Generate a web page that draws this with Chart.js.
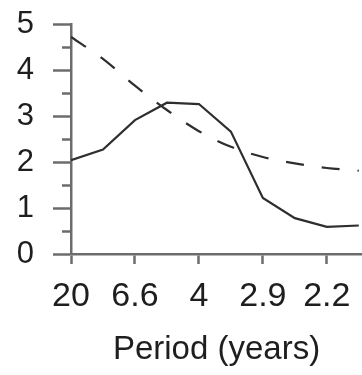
<!DOCTYPE html>
<html>
<head>
<meta charset="utf-8">
<script src="https://cdn.jsdelivr.net/npm/chart.js@4"></script>
<style>
  html, body { margin: 0; padding: 0; background: #fff; }
  #wrap { width: 362px; height: 375px; position: relative; }
</style>
</head>
<body>
<div id="wrap"><canvas id="c"></canvas></div>
<script>
// 資料：x 為半個刻度間隔的序號，刻度文字為週期（年）
var steps = [0, 1, 2, 3, 4, 5, 6, 7, 8, 9];
var solidValues = [2.04, 2.27, 2.91, 3.29, 3.26, 2.66, 1.22, 0.78, 0.59, 0.62];
var dashedValues = [4.72, 4.24, 3.66, 3.13, 2.67, 2.33, 2.11, 1.97, 1.87, 1.81];
var periodTicks = [0, 2, 4, 6, 8];
var periodLabels = ['20', '6.6', '4', '2.9', '2.2'];
var yMajor = [0, 1, 2, 3, 4, 5];

var axisGray = '#6c6c6c';
var lineColor = '#2e2e2e';
var textCol = '#1e1e1e';
var fontFam = '"Liberation Sans", Arial, sans-serif';

function pts(vals) {
  return steps.map(function (s, i) { return { x: s, y: vals[i] }; });
}

new Chart(document.getElementById('c'), {
  type: 'line',
  data: {
    datasets: [
      {
        label: 'solid',
        data: pts(solidValues),
        borderColor: lineColor,
        borderWidth: 2.2,
        pointRadius: 0,
        tension: 0,
        fill: false
      },
      {
        label: 'dashed',
        data: pts(dashedValues),
        borderColor: lineColor,
        borderWidth: 2.2,
        borderDash: [18, 18],
        pointRadius: 0,
        cubicInterpolationMode: 'monotone',
        fill: false
      }
    ]
  },
  options: {
    responsive: true,
    maintainAspectRatio: false,
    animation: false,
    layout: { padding: { top: 24, right: 0, left: 0, bottom: 0 } },
    plugins: { legend: { display: false }, tooltip: { enabled: false } },
    scales: {
      x: {
        type: 'linear',
        min: 0,
        max: 9.1,
        afterBuildTicks: function (scale) {
          scale.ticks = periodTicks.map(function (v) { return { value: v }; });
        },
        afterFit: function (scale) {
          scale.height = 121;
          scale.paddingLeft = 0;
          scale.paddingRight = 0;
        },
        border: { color: axisGray, width: 2.5 },
        grid: { drawOnChartArea: false, tickLength: 10, tickColor: axisGray, tickWidth: 2.5 },
        ticks: {
          color: textCol,
          font: { family: fontFam, size: 34 },
          padding: 12,
          autoSkip: false,
          maxRotation: 0,
          callback: function (v) { return periodLabels[periodTicks.indexOf(v)]; }
        },
        title: {
          display: true,
          text: 'Period (years)',
          color: textCol,
          font: { family: fontFam, size: 33 },
          padding: { top: 0, bottom: 5 }
        }
      },
      y: {
        min: 0,
        max: 5,
        afterFit: function (scale) {
          scale.width = 71;
          scale.paddingTop = 0;
          scale.paddingBottom = 0;
        },
        border: { color: axisGray, width: 2.5 },
        grid: {
          drawOnChartArea: false,
          tickLength: 18,
          tickColor: axisGray,
          tickWidth: 2.5,
          tickBorderDash: function (ctx) {
            return yMajor.indexOf(ctx.tick.value) >= 0 ? [] : [0, 9, 9, 40];
          }
        },
        ticks: {
          stepSize: 0.5,
          autoSkip: false,
          color: textCol,
          font: { family: fontFam, size: 31 },
          padding: 19,
          callback: function (v) { return yMajor.indexOf(v) >= 0 ? String(v) : ''; }
        }
      }
    }
  }
});
</script>
</body>
</html>
